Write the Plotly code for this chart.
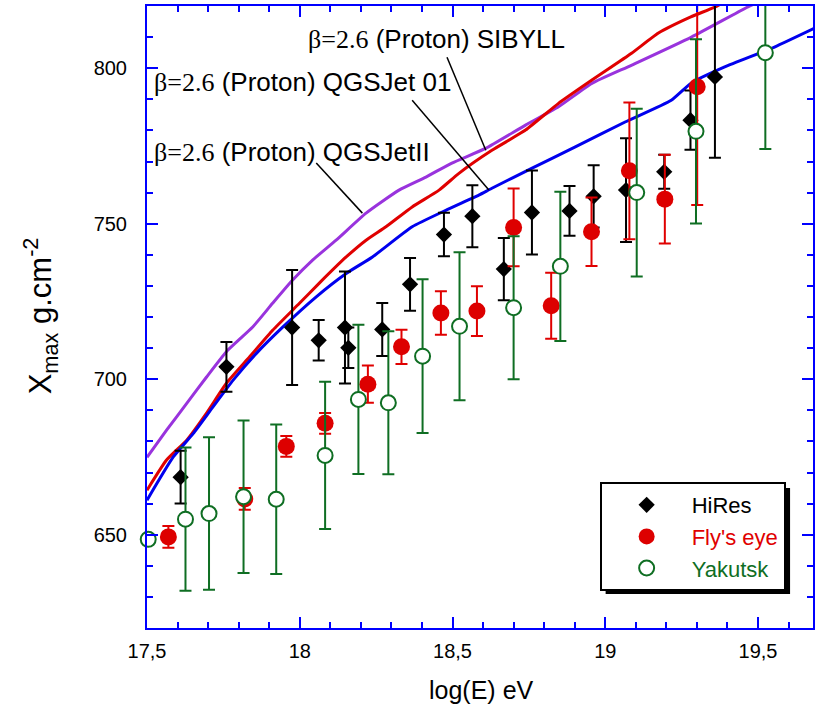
import plotly.graph_objects as go

# ---- model curves (beta=2.6, proton) ----
qgsjet2_x = [17.5, 17.564, 17.63, 17.695, 17.764, 17.846, 17.911, 17.976, 18.042, 18.119, 18.217,
             18.325, 18.413, 18.498, 18.608, 18.739, 18.847, 18.956, 19.087, 19.282, 19.467, 19.55]
qgsjet2_y = [674.9, 683.6, 692.2, 700.7, 709.3, 716.8, 724.4, 731.8, 738.3, 744.7, 753.4,
             760.8, 765.0, 769.5, 774.2, 781.7, 787.6, 795.1, 801.0, 810.0, 819.7, 823.5]

sibyll_x = [17.5, 17.564, 17.63, 17.695, 17.76, 17.836, 17.912, 17.999, 18.064, 18.152, 18.217, 18.282,
            18.368, 18.456, 18.521, 18.629, 18.739, 18.847, 18.955, 19.086, 19.174, 19.28, 19.36, 19.42]
sibyll_y = [664.3, 674.0, 680.4, 689.1, 698.7, 707.2, 715.8, 724.4, 730.9, 739.3, 744.7, 749.0,
            755.4, 760.8, 766.2, 773.6, 780.1, 788.7, 796.1, 804.8, 811.3, 816.5, 819.7, 823.0]

qgsjet01_x = [17.5, 17.586, 17.651, 17.716, 17.782, 17.858, 17.945, 18.054, 18.152, 18.238, 18.368,
              18.478, 18.586, 18.629, 18.759, 18.902, 19.065, 19.216, 19.281, 19.391, 19.554, 19.686]
qgsjet01_y = [661.1, 675.0, 682.5, 691.1, 699.7, 708.3, 716.8, 726.5, 734.0, 739.3, 749.0,
              754.3, 759.2, 761.4, 767.8, 774.7, 782.7, 789.7, 795.2, 800.4, 806.8, 812.9]

# ---- data ----
hires_x = [17.61, 17.76, 17.975, 18.062, 18.148, 18.159, 18.27, 18.361, 18.472, 18.565, 18.668,
           18.76, 18.883, 18.962, 19.068, 19.193, 19.279, 19.359]
hires_y = [668.5, 704.0, 716.6, 712.5, 716.6, 710.1, 716.0, 730.5, 746.5, 752.4, 735.4,
           753.6, 754.1, 758.8, 760.8, 766.7, 783.3, 797.2]
hires_err = [8.5, 8.0, 18.5, 6.5, 18.0, 6.5, 8.5, 8.5, 7.0, 10.0, 10.0,
             13.5, 8.0, 10.0, 16.7, 5.5, 9.5, 26.0]

fly_x = [17.57, 17.82, 17.956, 18.083, 18.223, 18.333, 18.462, 18.58, 18.70, 18.823, 18.955,
         19.079, 19.195, 19.301]
fly_y = [649.3, 661.5, 678.4, 685.8, 698.4, 710.4, 721.3, 721.9, 748.8, 723.6, 747.4,
         767.0, 757.9, 794.0]
fly_err = [3.5, 3.5, 3.3, 3.3, 6.0, 5.5, 7.0, 8.0, 12.5, 10.6, 11.0, 22.0, 14.3, 38.0]

yak_x = [17.504, 17.626, 17.703, 17.816, 17.923, 18.083, 18.192, 18.29, 18.402, 18.523, 18.70,
         18.853, 19.103, 19.297, 19.524]
yak_y = [648.5, 655.0, 656.8, 662.2, 661.4, 675.5, 693.5, 692.4, 707.4, 717.0, 723.0,
         736.3, 760.0, 779.7, 805.0]
yak_err = [1.0, 23.0, 24.5, 24.5, 24.0, 23.7, 24.0, 23.0, 24.7, 23.8, 23.0,
           24.0, 27.0, 29.6, 31.0]

x_tickvals = [17.5, 18, 18.5, 19, 19.5]
x_ticktext = ["17,5", "18", "18,5", "19", "19,5"]
y_tickvals = [650, 700, 750, 800]
y_ticktext = ["650", "700", "750", "800"]

# curve labels: (text, x, y) and leader lines (x0, y0, x1, y1)
label_texts = ["SIBYLL", "QGSJet 01", "QGSJetII"]
label_pos = [(18.021, 809.5), (17.515, 795.5), (17.516, 773.0)]
leader_lines = [(18.482, 803.5, 18.609, 773.6),
                (18.368, 789.7, 18.619, 760.8),
                (18.054, 769.5, 18.205, 753.4)]

SANS = "Liberation Sans, Arial, sans-serif"
AXIS_BLUE = "#0000ff"
RED = "#e00000"
GREEN = "#0f6e23"
PURPLE = "#9933dd"

W, H = 817, 708
ML, MR, MT, MB = 147, 2, 6, 80
PW, PH = W - ML - MR, H - MT - MB


def px2paper(px, py):
    return (px - ML) / PW, (H - MB - py) / PH


fig = go.Figure()

curve_line = dict(width=3, shape="spline", smoothing=0.5)
fig.add_trace(go.Scatter(x=qgsjet2_x, y=qgsjet2_y, mode="lines",
                         line=dict(color=PURPLE, **curve_line), showlegend=False))
fig.add_trace(go.Scatter(x=sibyll_x, y=sibyll_y, mode="lines",
                         line=dict(color=RED, **curve_line), showlegend=False))
fig.add_trace(go.Scatter(x=qgsjet01_x, y=qgsjet01_y, mode="lines",
                         line=dict(color="#0000ee", **curve_line), showlegend=False))

fig.add_trace(go.Scatter(
    x=hires_x, y=hires_y, mode="markers", name="HiRes",
    marker=dict(symbol="diamond", size=12.5, color="black"),
    error_y=dict(type="data", array=hires_err, color="black", thickness=2, width=6)))
fig.add_trace(go.Scatter(
    x=fly_x, y=fly_y, mode="markers", name='<span style="color:#e00000">Fly\'s eye</span>',
    marker=dict(symbol="circle", size=17, color="#dd0000"),
    error_y=dict(type="data", array=fly_err, color=RED, thickness=2, width=6)))
fig.add_trace(go.Scatter(
    x=yak_x, y=yak_y, mode="markers", name='<span style="color:#0f6e23">Yakutsk</span>',
    marker=dict(symbol="circle", size=15, color="white", line=dict(color=GREEN, width=2)),
    error_y=dict(type="data", array=yak_err, color=GREEN, thickness=2, width=6),
    cliponaxis=False))

annotations = []
for t, (lx, ly) in zip(label_texts, label_pos):
    annotations.append(dict(
        x=lx, y=ly, xref="x", yref="y", xanchor="left", yanchor="middle", showarrow=False,
        text='<span style="font-family:Liberation Serif">β=2.6</span> (Proton) ' + t,
        font=dict(family=SANS, size=26, color="black")))

tx, ty = px2paper(483, 690)
annotations.append(dict(x=tx, y=ty, xref="paper", yref="paper", showarrow=False,
                        text="log(E) eV", font=dict(family=SANS, size=25, color="black"),
                        xanchor="center", yanchor="middle"))
yx, yy = px2paper(40, 316)
annotations.append(dict(x=yx, y=yy, xref="paper", yref="paper", showarrow=False,
                        text="X<sub>max</sub> g.cm<sup>-2</sup>", textangle=-90,
                        font=dict(family=SANS, size=31, color="black"),
                        xanchor="center", yanchor="middle"))

shapes = []
for (x0, y0, x1, y1) in leader_lines:
    shapes.append(dict(type="line", xref="x", yref="y", x0=x0, y0=y0, x1=x1, y1=y1,
                       line=dict(color="black", width=1.5)))
sx0, sy0 = px2paper(607, 594)
sx1, sy1 = px2paper(792, 488)
shapes.append(dict(type="rect", xref="paper", yref="paper", x0=sx0, y0=sy0, x1=sx1, y1=sy1,
                   fillcolor="black", line=dict(width=0), layer="above"))

lx, ly = px2paper(601, 482)

axis_common = dict(showline=True, linecolor=AXIS_BLUE, linewidth=2, mirror="ticks",
                   ticks="inside", ticklen=11, tickwidth=2, tickcolor=AXIS_BLUE,
                   showgrid=False, zeroline=False,
                   tickfont=dict(family=SANS, size=20, color="black"))

fig.update_layout(
    width=W, height=H,
    margin=dict(l=ML, r=MR, t=MT, b=MB),
    paper_bgcolor="white", plot_bgcolor="white",
    xaxis=dict(range=[17.5, 19.68], tickvals=x_tickvals, ticktext=x_ticktext,
               minor=dict(ticks="inside", ticklen=6, tickwidth=1.5, dtick=0.1, tickcolor=AXIS_BLUE),
               ticklabelstandoff=4, **axis_common),
    yaxis=dict(range=[620, 820], tickvals=y_tickvals, ticktext=y_ticktext,
               minor=dict(ticks="inside", ticklen=6, tickwidth=1.5, dtick=10, tickcolor=AXIS_BLUE),
               ticklabelstandoff=14, **axis_common),
    legend=dict(x=lx, y=ly, xanchor="left", yanchor="top", bgcolor="white",
                bordercolor="black", borderwidth=2,
                font=dict(family=SANS, size=22, color="black"), itemwidth=80),
    annotations=annotations,
    shapes=shapes,
)

fig.write_html("out.html")
